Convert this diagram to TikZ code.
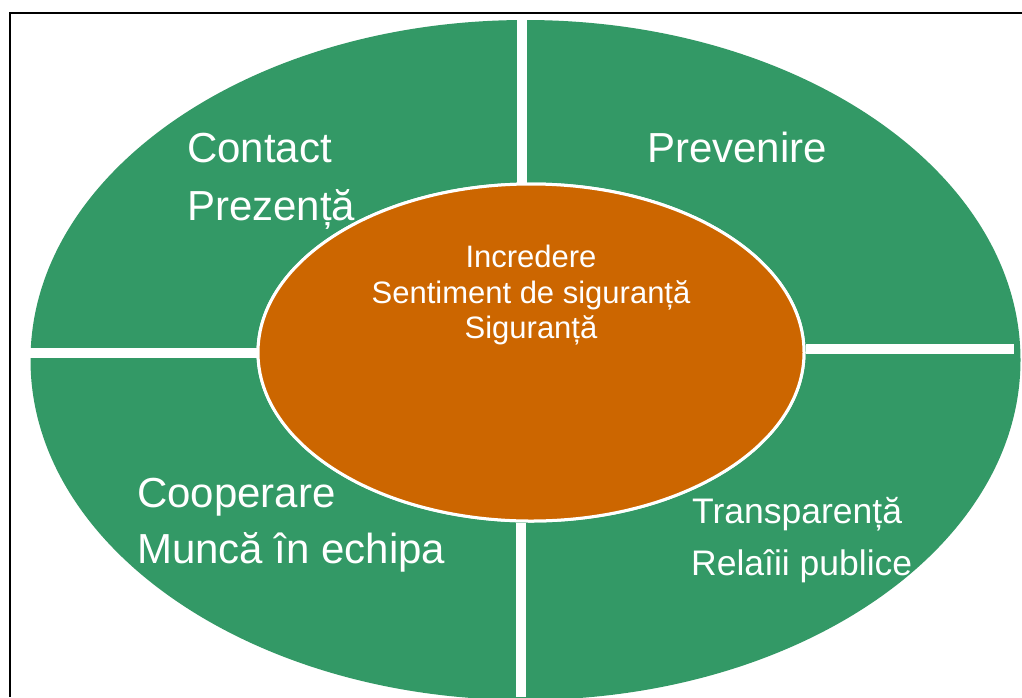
\documentclass[tikz,border=0pt]{standalone}
\usepackage{fontspec}
\setmainfont{Liberation Sans}
\usetikzlibrary{shapes.geometric}
\definecolor{ringgreen}{RGB}{51,153,102}
\definecolor{coreorange}{RGB}{204,102,0}
\tikzset{
  ring/.style={ellipse, fill=ringgreen, inner sep=0pt, minimum width=990pt, minimum height=680pt},
  core/.style={ellipse, fill=coreorange, draw=white, line width=3pt, inner sep=0pt, minimum width=546pt, minimum height=337pt},
  divider/.style={white, line width=10pt},
  frameline/.style={black, line width=2pt},
  bigtxt/.style={text=white, inner sep=0pt, anchor=base west, font=\fontsize{42}{50}\selectfont},
  midtxt/.style={text=white, inner sep=0pt, anchor=base west, font=\fontsize{35.5}{42}\selectfont},
  coretxt/.style={text=white, inner sep=0pt, anchor=base, font=\fontsize{31}{36}\selectfont}
}
\begin{document}
\begin{tikzpicture}[x=1pt,y=-1pt]
\useasboundingbox (0,0) rectangle (1022,697);
\clip (0,0) rectangle (1022,697);
\fill[white] (0,0) rectangle (1022,697);
% frame
\coordinate (fl) at (10,697);
\coordinate (fc) at (10,13);
\coordinate (fr) at (1022,13);
\draw[frameline] (fl) -- (fc) -- (fr);
% outer ring
\node[ring] (outer) at (525.5,360) {};
% inner core
\node[core] (core) at (531,352.5) {};
% dividers
\coordinate (lend) at (28,353);
\coordinate (rend) at (1014,349);
\coordinate (tend) at (522,15);
\coordinate (bend) at (521,697);
\draw[divider] (lend) -- (core.west |- lend);
\draw[divider] (core.east |- rend) -- (rend);
\draw[divider] (tend) -- (tend |- core.north);
\draw[divider] (bend |- core.south) -- (bend);
% redraw core on top of dividers
\node[core] (core2) at (core.center) {};
% texts
\node[bigtxt] (t1) at (187,162) {Contact};
\node[bigtxt] (t2) at (187,220) {Prezență};
\node[bigtxt] (t3) at (647,162) {Prevenire};
\node[bigtxt] (t4) at (137,507) {Cooperare};
\node[bigtxt] (t5) at (137,563) {Muncă în echipa};
\node[midtxt] (t6) at (692,523) {Transparență};
\node[midtxt] (t7) at (691,575) {Relaîii publice};
\node[coretxt] (c1) at (531,267) {Incredere};
\node[coretxt] (c2) at (531,303) {Sentiment de siguranță};
\node[coretxt] (c3) at (531,338) {Siguranță};
\end{tikzpicture}
\end{document}
